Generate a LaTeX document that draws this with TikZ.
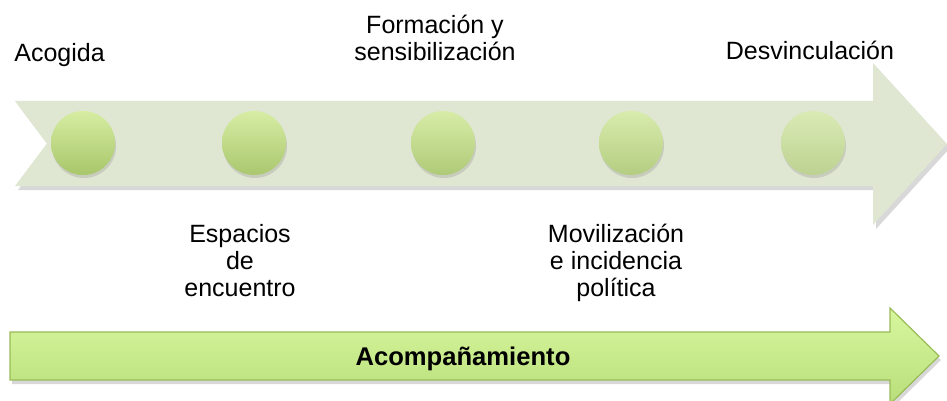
\documentclass[tikz,border=0pt]{standalone}
\usepackage{fontspec}
\setmainfont{Liberation Sans}
\usepackage{tikz}
\usetikzlibrary{shadows}

\definecolor{fondo}{RGB}{223,230,210}
\definecolor{verdeClaro}{RGB}{214,237,162}
\definecolor{verdeOscuro}{RGB}{168,198,106}
\definecolor{flechaClaro}{RGB}{216,247,158}
\definecolor{flechaOscuro}{RGB}{184,222,122}
\definecolor{borde}{RGB}{155,187,89}

\begin{document}
\begin{tikzpicture}[x=0.5pt,y=-0.5pt,
	hito/.style={circle,minimum size=32pt,inner sep=0pt,drop shadow={opacity=0.25,shadow xshift=0.5pt,shadow yshift=-1.5pt}},
	etiqueta/.style={inner sep=0pt,align=center,font=\fontsize{12.5}{13.5}\selectfont}]
	\clip (0,0) rectangle (947,401);
	\fill[white] (0,0) rectangle (947,401);
	\fill[fondo,drop shadow={opacity=0.3,shadow xshift=1.5pt,shadow yshift=-2pt}] (15,101) -- (873,101) -- (873,63) -- (947,144) -- (873,225) -- (873,186) -- (15,186) -- (47,143.5) -- cycle;
	\foreach \nombre/\x/\p in {acogida/83/100,espacios/254/96,formacion/443/88,movilizacion/631/78,desvinculacion/813/62}
		\node[hito,top color=verdeClaro!\p!fondo,bottom color=verdeOscuro!\p!fondo] (\nombre) at (\x,143) {};
	\node[etiqueta,anchor=base west] (t-acogida) at (14,62) {Acogida};
	\node[etiqueta,anchor=base] (t-formacion) at (435,61) {Formación y\\sensibilización};
	\node[etiqueta,anchor=base] (t-desvinculacion) at (810,60) {Desvinculación};
	\node[etiqueta,anchor=base] (t-espacios) at (240,296) {Espacios\\de\\encuentro};
	\node[etiqueta,anchor=base] (t-movilizacion) at (616,296) {Movilización\\e incidencia\\política};
	\path[draw=borde,line width=0.6pt,top color=flechaClaro,bottom color=flechaOscuro,drop shadow={opacity=0.3,shadow xshift=1pt,shadow yshift=-2pt}] (10,332) -- (890,332) -- (890,308) -- (939,356) -- (890,404) -- (890,380) -- (10,380) -- cycle;
	\node[etiqueta,font=\fontsize{12.8}{14}\selectfont\bfseries,anchor=base] (acompanamiento) at (463,365) {Acompañamiento};
\end{tikzpicture}
\end{document}
